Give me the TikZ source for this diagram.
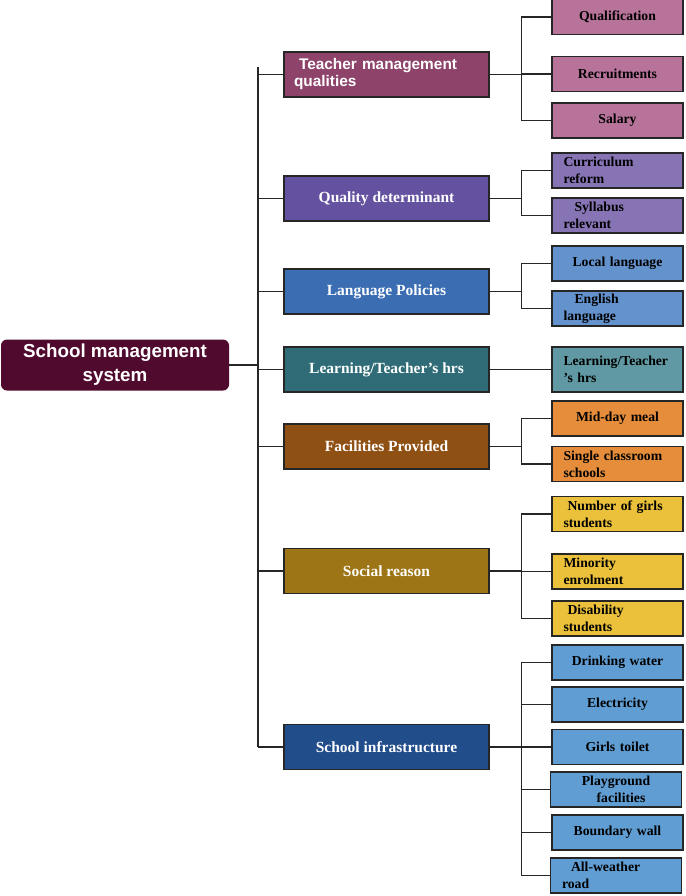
\documentclass[tikz,border=0pt]{standalone}
\usepackage{fontspec}
\setmainfont{Liberation Serif}
\newfontfamily\arialf{Liberation Sans}
\definecolor{rootc}{HTML}{500A2D}
\definecolor{m1c}{HTML}{8E446A}
\definecolor{l1c}{HTML}{B8739A}
\definecolor{m2c}{HTML}{6452A0}
\definecolor{l2c}{HTML}{8774B5}
\definecolor{m3c}{HTML}{3B6DB3}
\definecolor{l3c}{HTML}{6492CC}
\definecolor{m4c}{HTML}{2F6C77}
\definecolor{l4c}{HTML}{6099A3}
\definecolor{m5c}{HTML}{8F5014}
\definecolor{l5c}{HTML}{E58D3A}
\definecolor{m6c}{HTML}{9D7516}
\definecolor{l6c}{HTML}{EBC13B}
\definecolor{m7c}{HTML}{224D8B}
\definecolor{l7c}{HTML}{609DD2}
\tikzset{
 box/.style={draw=black!85, line width=1.1pt, inner sep=0pt},
 midbox/.style={box, minimum width=205pt, minimum height=45pt, text=white,
   font=\fontsize{15.5}{18}\selectfont\bfseries, align=center},
 leafbox/.style={box, minimum width=131pt, minimum height=35pt, text=black,
   font=\fontsize{13.7}{17}\selectfont\bfseries, text width=108pt, align=center},
 leafl/.style={leafbox, align=left},
 conn/.style={line width=1.2pt, draw=black!85},
}
\begin{document}
\begin{tikzpicture}[x=1pt,y=-1pt]
\useasboundingbox (0,0) rectangle (685,896);
% root
\node[fill=rootc, rounded corners=6pt, minimum width=228pt, minimum height=51pt, inner sep=0pt,
  text=white, font=\arialf\fontsize{18.8}{24}\selectfont\bfseries, align=center]
  (root) at (115,365) {School management\\system};
% middle boxes
\node[midbox, fill=m1c, text width=185pt, align=left, font=\arialf\fontsize{15.4}{17}\selectfont\bfseries]
  (m1) at (386.5,74.5) {\hspace*{5pt}Teacher management\\qualities};
\node[midbox, fill=m2c] (m2) at (386.5,198.5) {Quality determinant};
\node[midbox, fill=m3c] (m3) at (386.5,291.5) {Language Policies};
\node[midbox, fill=m4c] (m4) at (386.5,369.5) {Learning/Teacher’s hrs};
\node[midbox, fill=m5c] (m5) at (386.5,446.5) {Facilities Provided};
\node[midbox, fill=m6c] (m6) at (386.5,571) {Social reason};
\node[midbox, fill=m7c] (m7) at (386.5,747) {School infrastructure};
% leaves
\node[leafbox, fill=l1c] (a1) at (617.5,17) {Qualification};
\node[leafbox, fill=l1c] (a2) at (617.5,74) {Recruitments};
\node[leafbox, fill=l1c] (a3) at (617.5,120.5) {Salary};
\node[leafl, fill=l2c] (b1) at (617.5,170.5) {Curriculum\\reform};
\node[leafl, fill=l2c] (b2) at (617.5,215.5) {\hspace*{11pt}Syllabus\\relevant};
\node[leafbox, fill=l3c] (c1) at (617.5,263.5) {Local language};
\node[leafl, fill=l3c] (c2) at (617.5,308.5) {\hspace*{11pt}English\\language};
\node[leafl, fill=l4c, minimum height=45pt] (d1) at (617.5,369.5) {Learning/Teacher\\’s hrs};
\node[leafbox, fill=l5c] (e1) at (617.5,418.5) {Mid-day meal};
\node[leafl, fill=l5c] (e2) at (617.5,464) {Single classroom\\schools};
\node[leafl, fill=l6c] (f1) at (617.5,514) {\hspace*{4pt}Number of girls\\students};
\node[leafl, fill=l6c] (f2) at (617.5,571.5) {Minority\\enrolment};
\node[leafl, fill=l6c] (f3) at (617.5,618.5) {\hspace*{4pt}Disability\\students};
\node[leafbox, fill=l7c] (g1) at (617.5,662.5) {Drinking water};
\node[leafbox, fill=l7c] (g2) at (617.5,704.5) {Electricity};
\node[leafbox, fill=l7c] (g3) at (617.5,747) {Girls toilet};
\node[leafbox, fill=l7c] (g4) at (616,789.5) {Playground\\\hspace*{10pt}facilities};
\node[leafbox, fill=l7c] (g5) at (617.5,832.5) {Boundary wall};
\node[leafl, fill=l7c] (g6) at (616,875.5) {\hspace*{9pt}All-weather\\road};
% trunk
\coordinate (tktop) at (258,67);
\coordinate (tkbot) at (258,747);
\draw[conn] (tktop) -- (tkbot);
\draw[conn] (root.east) -- (root.east -| tktop);
\foreach \m in {m1,m2,m3,m4,m5,m6,m7}
  \draw[conn] (\m.west -| tktop) -- (\m.west);
% branches
\foreach \m/\l in {m1/a1,m1/a2,m1/a3,m2/b1,m2/b2,m3/c1,m3/c2,m5/e1,m5/e2,m6/f1,m6/f2,m6/f3,
                   m7/g1,m7/g2,m7/g3,m7/g4,m7/g5,m7/g6}
  \draw[conn] (\m.east) -- ++(32,0) |- (\l.west);
\draw[conn] (m4.east) -- (d1.west);
\end{tikzpicture}
\end{document}
